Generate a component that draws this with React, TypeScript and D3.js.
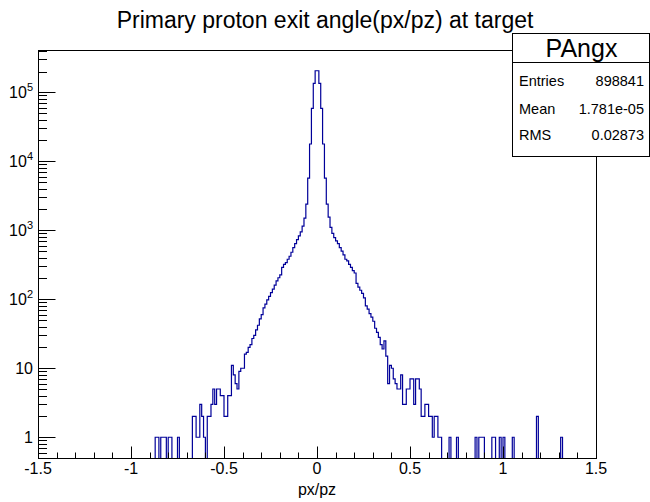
import React from "react";
import * as d3 from "d3";

// ---------- data (bin width 0.01, axis -1.5 .. 1.5) ----------
const BIN_WIDTH = 0.01;
const X_DOMAIN: [number, number] = [-1.5, 1.5];
const Y_DOMAIN: [number, number] = [0.5, 4.1e5];

// left tail: bins starting at -0.87 .. -0.38
const LEFT_TAIL_START = -0.87;
const leftTail = [
  1, 1, 0, 1, 1, 1, 0, 1, 1, 0,
  0, 0, 1, 0, 0, 0, 0, 0, 0, 0,
  2, 2, 1, 1, 3, 2, 1, 0, 2, 2,
  3, 5, 3, 5, 5, 4, 4, 2, 2, 4,
  4, 11, 8, 6, 5, 9, 10, 10, 16, 17,
];

// core: bins starting at -0.37 .. 0.37
const CORE_START = -0.37;
const core = [
  20, 22, 27, 30, 36, 42, 52, 60, 75, 85,
  98, 110, 125, 140, 160, 185, 205, 225, 290, 320,
  340, 380, 420, 480, 560, 640, 730, 830, 950, 1150,
  1500, 2400, 5700, 17800, 58500, 135000, 205000, 205000, 135000, 58500,
  17800, 5700, 2400, 1550, 1100, 900, 780, 700, 640, 560,
  500, 440, 380, 360, 320, 290, 260, 240, 170, 150,
  135, 122, 105, 80, 72, 62, 55, 48, 38, 33,
  28, 22, 19, 25, 15,
];

// right tail: bins starting at 0.38 .. 1.31
const RIGHT_TAIL_START = 0.38;
const rightTail = [
  6, 11, 10, 7, 6, 5, 5, 8, 3, 3,
  5, 5, 7, 7, 3, 7, 7, 5, 2, 2,
  3, 3, 2, 2, 1, 2, 2, 1, 1, 0,
  0, 0, 0, 1, 0, 0, 0, 1, 0, 0,
  0, 0, 0, 0, 0, 0, 0, 1, 0, 1,
  1, 1, 0, 0, 0, 0, 1, 1, 0, 0,
  1, 0, 1, 0, 0, 0, 0, 1, 0, 0,
  0, 0, 0, 0, 0, 0, 0, 0, 0, 0,
  2, 0, 0, 0, 0, 0, 0, 0, 0, 0,
  0, 0, 0, 1,
];

const TITLE = "Primary proton exit angle(px/pz) at target";
const X_TITLE = "px/pz";
const X_TICK_LABELS = ["-1.5", "-1", "-0.5", "0", "0.5", "1", "1.5"];
const X_MAJOR = [-1.5, -1, -0.5, 0, 0.5, 1, 1.5];
const Y_DECADES = [0, 1, 2, 3, 4, 5];
const STATS_NAME = "PAngx";
const STATS_LABELS = ["Entries", "Mean", "RMS"];
const STATS_VALUES = ["898841", "1.781e-05", "0.02873"];

// ---------- layout ----------
const W = 650, H = 502;
const L = 38, R = 596, T = 50, B = 458;
const FONT = "'Liberation Sans', Arial, Helvetica, sans-serif";
const HIST_COLOR = "#000099";

function buildBins() {
  const nBins = Math.round((X_DOMAIN[1] - X_DOMAIN[0]) / BIN_WIDTH);
  const counts = new Array(nBins).fill(0);
  const put = (start: number, arr: number[]) => {
    const i0 = Math.round((start - X_DOMAIN[0]) / BIN_WIDTH);
    arr.forEach((v, k) => (counts[i0 + k] = v));
  };
  put(LEFT_TAIL_START, leftTail);
  put(CORE_START, core);
  put(RIGHT_TAIL_START, rightTail);
  return counts.map((v, i) => ({
    x0: X_DOMAIN[0] + i * BIN_WIDTH,
    x1: X_DOMAIN[0] + (i + 1) * BIN_WIDTH,
    v,
  }));
}

export default function App() {
  const x = d3.scaleLinear().domain(X_DOMAIN).range([L, R]);
  const y = d3.scaleLog().domain(Y_DOMAIN).range([B, T]);
  const bins = buildBins();
  const yv = (v: number) => (v > 0 ? y(v) : B + 2);

  let d = `M${x(bins[0].x0)},${yv(bins[0].v)}`;
  bins.forEach((b, i) => {
    if (i > 0) d += `V${yv(b.v)}`;
    d += `H${x(b.x1)}`;
  });

  const xMinor = d3.range(-15, 16).map((k) => k / 10);
  const yTicks: { v: number; major: boolean }[] = [];
  for (let e = -1; e <= 6; e++) {
    for (let m = 1; m <= 9; m++) {
      const v = m * Math.pow(10, e);
      if (v >= Y_DOMAIN[0] && v <= Y_DOMAIN[1]) yTicks.push({ v, major: m === 1 });
    }
  }

  const boxL = 512, boxT = 33, boxR = 649, boxB = 156, headB = 62;
  const rowsY = [81, 108.5, 135];

  return (
    <svg
      width={W}
      height={H}
      style={{ position: "absolute", left: 0, top: 0, background: "#fff" }}
      fontFamily={FONT}
    >
      <rect x={0} y={0} width={W} height={H} fill="#fff" />
      <defs>
        <clipPath id="frameClip">
          <rect x={L} y={T} width={R - L} height={B - T} />
        </clipPath>
      </defs>
      <text x={325} y={28} fontSize={23} textAnchor="middle" fill="#000">
        {TITLE}
      </text>

      <path d={d} fill="none" stroke={HIST_COLOR} strokeWidth={1.2} clipPath="url(#frameClip)" />

      <rect x={L + 0.5} y={T + 0.5} width={R - L} height={B - T} fill="none" stroke="#000" strokeWidth={1} />

      {xMinor.map((t) => {
        const major = X_MAJOR.some((m) => Math.abs(m - t) < 1e-9);
        const px = Math.round(x(t)) + 0.5;
        return (
          <line key={"xt" + t} x1={px} x2={px} y1={B + 0.5} y2={B + 0.5 - (major ? 12 : 6)} stroke="#000" strokeWidth={1} />
        );
      })}
      {X_MAJOR.map((t, i) => (
        <text key={"xl" + t} x={x(t)} y={474} fontSize={16} textAnchor="middle" fill="#000">
          {X_TICK_LABELS[i]}
        </text>
      ))}
      <text x={x(0)} y={495} fontSize={16} textAnchor="middle" fill="#000">
        {X_TITLE}
      </text>

      {yTicks.map((t, i) => {
        const py = Math.round(y(t.v)) + 0.5;
        return (
          <line key={"yt" + i} x1={L + 0.5} x2={L + 0.5 + (t.major ? 17 : 8.5)} y1={py} y2={py} stroke="#000" strokeWidth={1} />
        );
      })}
      {Y_DECADES.map((e) => {
        const py = y(Math.pow(10, e));
        if (e === 0)
          return (
            <text key={"yl" + e} x={33} y={py + 6} fontSize={16} textAnchor="end" fill="#000">1</text>
          );
        if (e === 1)
          return (
            <text key={"yl" + e} x={33} y={py + 6} fontSize={16} textAnchor="end" fill="#000">10</text>
          );
        return (
          <text key={"yl" + e} x={33} y={py + 6} fontSize={16} textAnchor="end" fill="#000">
            10
            <tspan fontSize={11} dy={-7}>{e}</tspan>
          </text>
        );
      })}

      <rect x={boxL + 0.5} y={boxT + 0.5} width={boxR - boxL} height={boxB - boxT} fill="#fff" stroke="#000" strokeWidth={1} />
      <line x1={boxL} x2={boxR + 0.5} y1={headB + 0.5} y2={headB + 0.5} stroke="#000" strokeWidth={1} />
      <text x={(boxL + boxR) / 2 + 1} y={57} fontSize={25} textAnchor="middle" fill="#000">
        {STATS_NAME}
      </text>
      {STATS_LABELS.map((lab, i) => (
        <g key={lab}>
          <text x={519} y={rowsY[i] + 5} fontSize={14.5} fill="#000">{lab}</text>
          <text x={644} y={rowsY[i] + 5} fontSize={14.5} textAnchor="end" fill="#000">{STATS_VALUES[i]}</text>
        </g>
      ))}
    </svg>
  );
}
